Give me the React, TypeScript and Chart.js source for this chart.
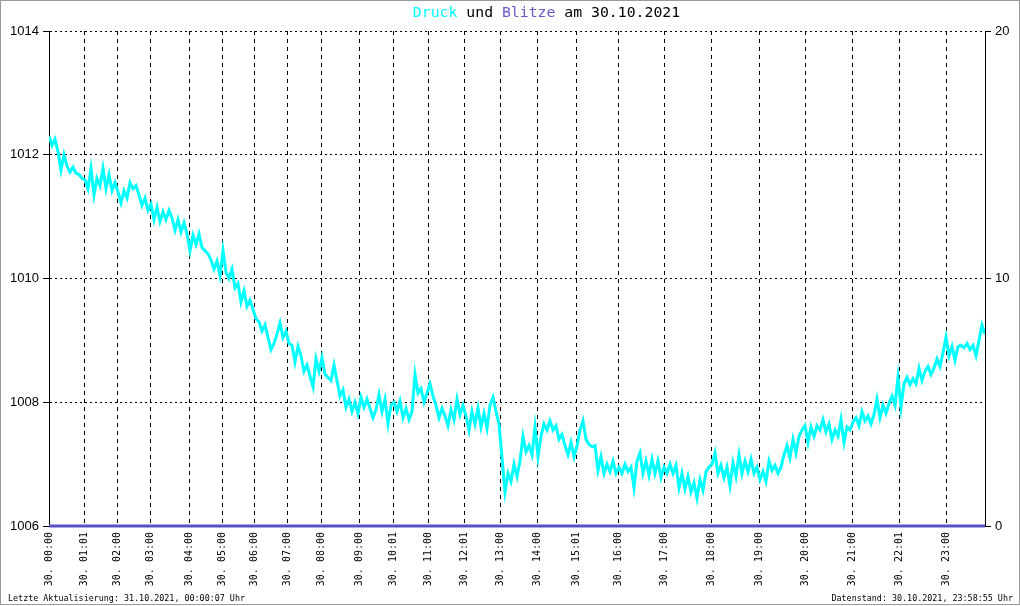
import React, { useEffect, useRef } from "react";
import { Chart, registerables } from "chart.js";

Chart.register(...registerables);

// Luftdruck (hPa), one sample per step of the sample index
const pressure: number[] = [
  1012.30, 1012.15, 1012.25, 1012.05, 1011.75, 1012.00, 1011.82, 1011.72, 1011.80, 1011.70,
  1011.68, 1011.62, 1011.60, 1011.45, 1011.78, 1011.35, 1011.62, 1011.50, 1011.78, 1011.45,
  1011.68, 1011.42, 1011.55, 1011.40, 1011.22, 1011.42, 1011.30, 1011.55, 1011.45, 1011.50,
  1011.35, 1011.18, 1011.30, 1011.10, 1011.20, 1010.95, 1011.15, 1010.92, 1011.08, 1010.95,
  1011.10, 1010.98, 1010.78, 1010.95, 1010.75, 1010.90, 1010.72, 1010.45, 1010.70, 1010.55,
  1010.72, 1010.50, 1010.45, 1010.40, 1010.30, 1010.15, 1010.28, 1010.05, 1010.45, 1010.10,
  1010.00, 1010.15, 1009.85, 1009.92, 1009.62, 1009.80, 1009.55, 1009.65, 1009.50, 1009.35,
  1009.30, 1009.15, 1009.25, 1009.05, 1008.85, 1008.95, 1009.10, 1009.28, 1009.05, 1009.15,
  1008.95, 1008.92, 1008.65, 1008.90, 1008.75, 1008.50, 1008.60, 1008.42, 1008.25, 1008.70,
  1008.50, 1008.72, 1008.45, 1008.40, 1008.35, 1008.60, 1008.35, 1008.10, 1008.20, 1007.92,
  1008.05, 1007.85, 1008.00, 1007.82, 1008.08, 1007.92, 1008.05, 1007.90, 1007.75, 1007.88,
  1008.12, 1007.85, 1008.05, 1007.65, 1007.95, 1008.00, 1007.85, 1008.02, 1007.75, 1007.90,
  1007.72, 1007.85, 1008.45, 1008.15, 1008.22, 1008.00, 1008.15, 1008.30, 1008.10, 1007.95,
  1007.75, 1007.90, 1007.78, 1007.62, 1007.88, 1007.72, 1008.05, 1007.80, 1007.95, 1007.78,
  1007.55, 1007.85, 1007.65, 1007.90, 1007.60, 1007.82, 1007.58, 1007.95, 1008.08, 1007.85,
  1007.65, 1007.10, 1006.55, 1006.85, 1006.72, 1007.00, 1006.80, 1007.05, 1007.45, 1007.20,
  1007.30, 1007.15, 1007.60, 1007.12, 1007.45, 1007.65, 1007.55, 1007.70, 1007.55, 1007.62,
  1007.40, 1007.48, 1007.30, 1007.15, 1007.35, 1007.12, 1007.30, 1007.55, 1007.70, 1007.40,
  1007.32, 1007.28, 1007.30, 1006.90, 1007.12, 1006.85, 1007.00, 1006.88, 1007.05, 1006.85,
  1006.95, 1006.85, 1007.00, 1006.88, 1006.95, 1006.62, 1007.05, 1007.18, 1006.85, 1007.05,
  1006.82, 1007.08, 1006.85, 1007.05, 1006.78, 1006.95, 1006.85, 1007.00, 1006.85, 1006.98,
  1006.62, 1006.85, 1006.60, 1006.80, 1006.55, 1006.70, 1006.45, 1006.75, 1006.58, 1006.88,
  1006.95, 1007.00, 1007.18, 1006.85, 1006.98, 1006.78, 1006.95, 1006.65, 1007.02, 1006.80,
  1007.15, 1006.85, 1007.05, 1006.88, 1007.08, 1006.85, 1006.95, 1006.75, 1006.88, 1006.72,
  1007.05, 1006.90, 1006.98, 1006.85, 1006.95, 1007.15, 1007.30, 1007.10, 1007.40, 1007.18,
  1007.45, 1007.55, 1007.62, 1007.35, 1007.60, 1007.45, 1007.62, 1007.55, 1007.72, 1007.52,
  1007.65, 1007.40, 1007.55, 1007.45, 1007.72, 1007.35, 1007.60, 1007.55, 1007.68, 1007.75,
  1007.62, 1007.85, 1007.70, 1007.78, 1007.65, 1007.80, 1008.05, 1007.75, 1007.95, 1007.82,
  1007.98, 1008.10, 1007.95, 1008.40, 1007.92, 1008.30, 1008.40, 1008.28, 1008.38, 1008.30,
  1008.55, 1008.35, 1008.50, 1008.58, 1008.45, 1008.55, 1008.70, 1008.58, 1008.80, 1009.05,
  1008.75, 1008.90, 1008.68, 1008.90, 1008.92, 1008.88, 1008.95, 1008.85, 1008.92, 1008.75,
  1009.00, 1009.25, 1009.10,
];

// sample index at which each labelled hour begins
const hourSampleIdx: number[] = [
  0, 11.8, 22.7, 33.8, 46.9, 57.7, 68.5, 79.6, 90.7, 103.4, 114.7, 126.6,
  138.6, 150.6, 162.9, 175.9, 189.9, 205.2, 220.8, 236.7, 252.3, 267.7, 283.5, 299.3,
];

const hourLabels: string[] = [
  "30. 00:00", "30. 01:01", "30. 02:00", "30. 03:00", "30. 04:00", "30. 05:00",
  "30. 06:00", "30. 07:00", "30. 08:00", "30. 09:00", "30. 10:01", "30. 11:00",
  "30. 12:01", "30. 13:00", "30. 14:00", "30. 15:01", "30. 16:00", "30. 17:00",
  "30. 18:00", "30. 19:00", "30. 20:00", "30. 21:00", "30. 22:01", "30. 23:00",
];

// Blitze per hour (none on this day), last value at end of day
const blitze: number[] = [
  0, 0, 0, 0, 0, 0, 0, 0, 0, 0, 0, 0,
  0, 0, 0, 0, 0, 0, 0, 0, 0, 0, 0, 0, 0,
];

const pressureTicks: number[] = [1006, 1008, 1010, 1012, 1014];
const blitzeTicks: number[] = [0, 10, 20];

const titleParts: [string, string][] = [
  ["Druck", "#00ffff"],
  [" und ", "#000000"],
  ["Blitze", "#6a5acd"],
  [" am 30.10.2021", "#000000"],
];
const footLeft = "Letzte Aktualisierung: 31.10.2021, 00:00:07 Uhr";
const footRight = "Datenstand: 30.10.2021, 23:58:55 Uhr";

const decorPlugin = {
  id: "decor",
  afterDraw(chart: any) {
    const ctx = chart.ctx as CanvasRenderingContext2D;
    ctx.save();
    ctx.font = "14.8px 'DejaVu Sans Mono'";
    ctx.textBaseline = "middle";
    ctx.textAlign = "left";
    let total = 0;
    for (const [t] of titleParts) total += ctx.measureText(t).width;
    let x = 546.5 - total / 2;
    for (const [t, c] of titleParts) {
      ctx.fillStyle = c;
      ctx.fillText(t, x, 13);
      x += ctx.measureText(t).width;
    }
    ctx.font = "8.4px 'DejaVu Sans Mono'";
    ctx.fillStyle = "#000";
    ctx.fillText(footLeft, 8, 599);
    ctx.textAlign = "right";
    ctx.fillText(footRight, 1013, 599);
    ctx.strokeStyle = "#9a9a9a";
    ctx.lineWidth = 1;
    ctx.strokeRect(0.5, 0.5, 1019, 604);
    ctx.restore();
  },
};

export default function App() {
  const ref = useRef<HTMLCanvasElement | null>(null);

  useEffect(() => {
    if (!ref.current) return;
    const blitzeIdx = [...hourSampleIdx, pressure.length - 1];
    const chart = new Chart(ref.current, {
      type: "line",
      data: {
        datasets: [
          {
            label: "Druck",
            data: pressure.map((v, i) => ({ x: i, y: v })),
            borderColor: "#00ffff",
            backgroundColor: "#00ffff",
            borderWidth: 3,
            pointRadius: 0,
            tension: 0,
            borderJoinStyle: "miter",
            yAxisID: "y",
          },
          {
            label: "Blitze",
            data: blitze.map((v, i) => ({ x: blitzeIdx[i], y: v })),
            borderColor: "#5a4ec8",
            backgroundColor: "#5a4ec8",
            borderWidth: 3,
            pointRadius: 0,
            yAxisID: "y1",
            clip: false as any,
          },
        ],
      },
      options: {
        responsive: false,
        animation: false,
        events: [],
        layout: { padding: { top: 31, left: 0, right: 0, bottom: 0 } },
        plugins: {
          legend: { display: false },
          title: { display: false },
          tooltip: { enabled: false },
        },
        scales: {
          x: {
            type: "linear",
            min: 0,
            max: pressure.length - 1,
            afterBuildTicks: (s: any) => {
              s.ticks = hourSampleIdx.map((v) => ({ value: v }));
            },
            afterFit: (s: any) => {
              s.height = 80;
            },
            ticks: {
              autoSkip: false,
              minRotation: 90,
              maxRotation: 90,
              padding: 6,
              color: "#000",
              font: { family: "'DejaVu Sans Mono'", size: 10 },
              callback: (_v: any, i: number) => hourLabels[i],
            },
            grid: {
              color: "#000",
              lineWidth: 1,
              drawTicks: false,
              tickLength: 0,
            },
            border: { display: true, color: "#000", width: 1, dash: [4, 4] } as any,
          },
          y: {
            type: "linear",
            position: "left",
            min: 1006,
            max: 1014,
            afterBuildTicks: (s: any) => {
              s.ticks = pressureTicks.map((v) => ({ value: v }));
            },
            afterFit: (s: any) => {
              s.width = 49;
            },
            ticks: {
              padding: 4,
              color: "#000",
              font: { family: "'Liberation Sans'", size: 13 },
              callback: (v: any) => String(v),
            },
            grid: {
              color: "#000",
              lineWidth: 1,
              tickLength: 6,
              tickBorderDash: [],
            } as any,
            border: { display: true, color: "#000", width: 1, dash: [2, 3] } as any,
          },
          y1: {
            type: "linear",
            position: "right",
            min: 0,
            max: 20,
            afterBuildTicks: (s: any) => {
              s.ticks = blitzeTicks.map((v) => ({ value: v }));
            },
            afterFit: (s: any) => {
              s.width = 35;
            },
            ticks: {
              padding: 4,
              color: "#000",
              font: { family: "'Liberation Sans'", size: 13 },
              callback: (v: any) => String(v),
            },
            grid: {
              drawOnChartArea: false,
              drawTicks: true,
              color: "#000",
              tickLength: 6,
            },
            border: { display: true, color: "#000", width: 1 },
          },
        },
      },
      plugins: [decorPlugin],
    });
    return () => chart.destroy();
  }, []);

  return (
    <div style={{ position: "fixed", left: 0, top: 0, width: 1020, height: 606, background: "#fff" }}>
      <canvas ref={ref} width={1020} height={606} style={{ display: "block" }} />
    </div>
  );
}
